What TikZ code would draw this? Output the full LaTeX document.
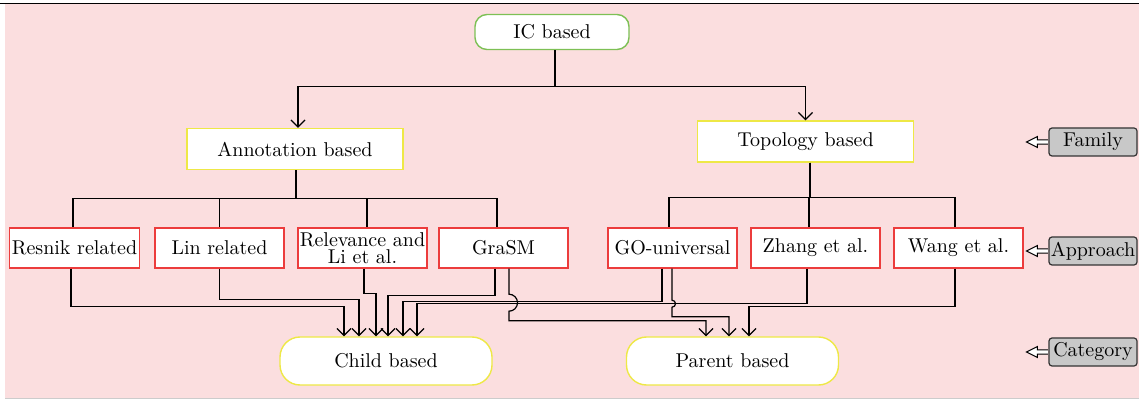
\documentclass[tikz,border=0pt]{standalone}
\usepackage{tikz}
\usetikzlibrary{calc,arrows.meta}
\definecolor{bgpink}{RGB}{251,222,223}
\definecolor{boxred}{RGB}{236,60,60}
\definecolor{boxyellow}{RGB}{238,232,70}
\definecolor{boxgreen}{RGB}{125,192,85}
\definecolor{legendgray}{RGB}{200,200,200}
\def\legendarrow(#1){\draw[line width=0.5pt, fill=white] ($(#1.west)+(-0.6,-2.2)$) -- ++(-10.4,0) -- ++(0,-3.3) -- ++(-11,5.5) -- ++(11,5.5) -- ++(0,-3.3) -- ++(10.4,0);}
\tikzset{
	icbox/.style={draw=boxgreen, fill=white, line width=0.7pt, rounded corners=6pt, minimum width=77pt, minimum height=17.5pt},
	fambox/.style={draw=boxyellow, fill=white, line width=0.7pt, minimum width=108pt, minimum height=20.5pt},
	appbox/.style={draw=boxred, fill=white, line width=0.7pt, minimum width=64.5pt, minimum height=20pt, inner sep=1pt},
	catbox/.style={draw=boxyellow, fill=white, line width=0.7pt, rounded corners=10pt, minimum width=106pt, minimum height=24pt},
	legbox/.style={draw=black!80, fill=legendgray, line width=0.6pt, rounded corners=1.5pt, minimum width=44pt, minimum height=14pt, inner sep=0pt},
	tree/.style={line width=0.6pt},
	flow/.style={line width=0.6pt, -{Straight Barb[length=3.5pt,width=7pt]}}
}

\begin{document}
\begin{tikzpicture}[x=0.5pt, y=-0.5pt]
		%%%%% START %%%%%
		\useasboundingbox (0,0) rectangle (1139,400);
		\fill[bgpink] (5,4) rectangle (1139,398);
		\draw[line width=0.8pt] (0,3.5) -- (1139,3.5);
		\draw[line width=0.6pt, color=black!20] (5,398.5) -- (1139,398.5);
		
		% family level
		\node[icbox] (ic) at (552,32) {IC based};
		\node[fambox] (annot) at (295,149) {Annotation based};
		\node[fambox] (topo) at (805.5,141.5) {Topology based};
		
		% approaches
		\node[appbox] (resnik) at (74.5,248) {Resnik related};
		\node[appbox] (lin) at (219.5,248) {Lin related};
		\node[appbox, align=center, font=\fontsize{10}{8.5}\selectfont] (relev) at (362.5,248) {Relevance and\\Li et al.};
		\node[appbox] (grasm) at (503.5,248) {GraSM};
		\node[appbox] (gouni) at (672.5,248) {GO-universal};
		\node[appbox] (zhang) at (815.5,248) {Zhang et al.};
		\node[appbox] (wang) at (958.5,248) {Wang et al.};
		
		% categories
		\node[catbox] (child) at (386,361) {Child based};
		\node[catbox] (parent) at (732.5,361) {Parent based};
		
		% legend
		\node[legbox] (family) at (1093,142) {Family};
		\node[legbox] (approach) at (1093,251) {Approach};
		\node[legbox] (category) at (1093,352) {Category};
		\legendarrow(family)
		\legendarrow(approach)
		\legendarrow(category)
		
		% IC -> families
		\draw[flow] ([xshift=1.5pt]ic.south) -- ++(0,36) -| ([xshift=1.5pt]annot.north);
		\draw[flow] ([xshift=1.5pt]ic.south) -- ++(0,36) -| (topo.north);
		
		% families -> approaches
		\draw[tree] ([xshift=0.5pt]annot.south) -- ++(0,28) -| ([xshift=-0.75pt]resnik.north);
		\draw[tree] ([xshift=0.5pt]annot.south) -- ++(0,28) -| (lin.north);
		\draw[tree] ([xshift=0.5pt]annot.south) -- ++(0,28) -| ([xshift=2.25pt]relev.north);
		\draw[tree] ([xshift=0.5pt]annot.south) -- ++(0,28) -| ([xshift=-3.25pt]grasm.north);
		\draw[tree] ([xshift=2.25pt]topo.south) -- ++(0,35) -| ([xshift=-1.75pt]gouni.north);
		\draw[tree] ([xshift=2.25pt]topo.south) -- ++(0,35) -| ([xshift=-3.25pt]zhang.north);
		\draw[tree] ([xshift=2.25pt]topo.south) -- ++(0,35) -| ([xshift=-1.75pt]wang.north);
		
		% approaches -> child based
		\draw[flow] ([xshift=-1.75pt]resnik.south) -- ++(0,38) -| ([xshift=-21pt]child.north);
		\draw[flow] (lin.south) -- ++(0,31) -| ([xshift=-13.5pt]child.north);
		\draw[flow] ([xshift=0.75pt]relev.south) -- ++(0,25) -| ([xshift=-5pt]child.north);
		\draw[flow] ([xshift=-4.25pt]grasm.south) -- ++(0,27) -| ([xshift=1pt]child.north);
		\draw[flow] ([xshift=-5.25pt]gouni.south) -- ++(0,33) -| ([xshift=8.5pt]child.north);
		\draw[flow] ([xshift=-4.25pt]zhang.south) -- ++(0,35) -| ([xshift=15.5pt]child.north);
		
		% approaches -> parent based
		\draw[flow] ([xshift=2.75pt]grasm.south) -- ++(0,25.5) arc[start angle=-90, end angle=90, radius=8.5] -- ++(0,9.5) -| ([xshift=-13.25pt]parent.north);
		\draw[flow] ([xshift=-0.25pt]gouni.south) -- ++(0,31.5) arc[start angle=-90, end angle=90, radius=3.5] -- ++(0,9.5) -| ([xshift=-1.75pt]parent.north);
		\draw[flow] ([xshift=-1.75pt]wang.south) -- ++(0,38) -| ([xshift=8.25pt]parent.north);
		
		%%%%% END %%%%%
	\end{tikzpicture}
\end{document}
